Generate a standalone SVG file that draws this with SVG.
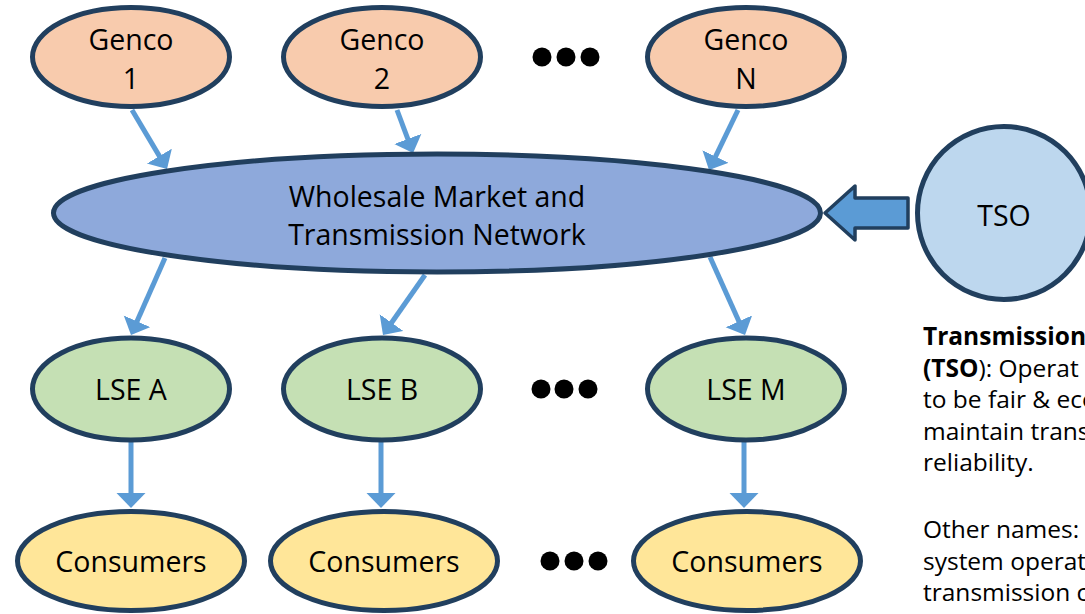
<svg xmlns="http://www.w3.org/2000/svg" width="1085" height="614" viewBox="0 0 1085 614">
<defs>
<style>
.node{stroke:#213F5E;stroke-width:5}
.genco{fill:#F8CBAD}
.market{fill:#8EA9DB}
.tso{fill:#BDD7EE}
.lse{fill:#C5E0B4}
.cons{fill:#FFE699}
.lbl{font-family:"Open Sans","Noto Sans",sans-serif;font-size:28.5px;fill:#000;text-anchor:middle}
.conn{stroke:#5B9BD5;stroke-width:5;fill:none;marker-end:url(#ah)}
.note{font-family:"Open Sans","Noto Sans",sans-serif;font-size:24.5px;fill:#000}
.dot{fill:#000}
</style>
<marker id="ah" markerUnits="userSpaceOnUse" markerWidth="16" markerHeight="30" refX="12" refY="14.5" orient="auto">
<path d="M0,0 L15,14.5 L0,29 Z" fill="#5B9BD5"/>
</marker>
</defs>
<rect width="1085" height="614" fill="#fff"/>
<g id="connectors">
<line class="conn" x1="132" y1="110" x2="165.5" y2="166.4"/>
<line class="conn" x1="397" y1="110" x2="412" y2="150.2"/>
<line class="conn" x1="738" y1="110" x2="710.3" y2="167.3"/>
<line class="conn" x1="165" y1="258" x2="132.2" y2="332.3"/>
<line class="conn" x1="425" y1="275" x2="384.7" y2="332.5"/>
<line class="conn" x1="710" y1="257" x2="743.8" y2="332.3"/>
<line class="conn" x1="131" y1="442" x2="131" y2="505"/>
<line class="conn" x1="381" y1="442" x2="381" y2="505"/>
<line class="conn" x1="744" y1="442" x2="744" y2="505"/>
<path id="tso-arrow" d="M825,213 L855,186 L855,198 L908,198 L908,228 L855,228 L855,240 Z" fill="#5B9BD5" stroke="#213F5E" stroke-width="3.5" stroke-linejoin="round"/>
</g>
<g id="genco1"><ellipse class="node genco" cx="131" cy="57" rx="98.5" ry="49.5"/><text class="lbl" x="131" y="50">Genco</text><text class="lbl" x="131" y="89">1</text></g>
<g id="genco2"><ellipse class="node genco" cx="382" cy="57" rx="98.5" ry="49.5"/><text class="lbl" x="382" y="50">Genco</text><text class="lbl" x="382" y="89">2</text></g>
<g id="gencoN"><ellipse class="node genco" cx="746" cy="57" rx="98.5" ry="49.5"/><text class="lbl" x="746" y="50">Genco</text><text class="lbl" x="746" y="89">N</text></g>
<g id="dots-top"><circle class="dot" cx="542" cy="57" r="9.5"/><circle class="dot" cx="566" cy="57" r="9.5"/><circle class="dot" cx="590" cy="57" r="9.5"/></g>
<g id="market"><ellipse class="node market" cx="437" cy="213" rx="383.5" ry="59"/><text class="lbl" x="437" y="207">Wholesale Market and</text><text class="lbl" x="437" y="245">Transmission Network</text></g>
<g id="tso"><circle class="node tso" cx="1004" cy="213" r="86.5"/><text class="lbl" x="1004" y="226">TSO</text></g>
<g id="lseA"><ellipse class="node lse" cx="131" cy="389" rx="98.5" ry="51"/><text class="lbl" x="131" y="400">LSE A</text></g>
<g id="lseB"><ellipse class="node lse" cx="382" cy="389" rx="98.5" ry="51"/><text class="lbl" x="382" y="400">LSE B</text></g>
<g id="lseM"><ellipse class="node lse" cx="746" cy="389" rx="98.5" ry="51"/><text class="lbl" x="746" y="400">LSE M</text></g>
<g id="dots-mid"><circle class="dot" cx="541" cy="389" r="9.5"/><circle class="dot" cx="564" cy="389" r="9.5"/><circle class="dot" cx="588" cy="389" r="9.5"/></g>
<g id="consA"><ellipse class="node cons" cx="131" cy="561" rx="113.5" ry="49.5"/><text class="lbl" x="131" y="572">Consumers</text></g>
<g id="consB"><ellipse class="node cons" cx="384" cy="561" rx="113.5" ry="49.5"/><text class="lbl" x="384" y="572">Consumers</text></g>
<g id="consM"><ellipse class="node cons" cx="747" cy="561" rx="113.5" ry="49.5"/><text class="lbl" x="747" y="572">Consumers</text></g>
<g id="dots-bot"><circle class="dot" cx="550" cy="561" r="9.5"/><circle class="dot" cx="574" cy="561" r="9.5"/><circle class="dot" cx="598" cy="561" r="9.5"/></g>
<g id="note">
<text class="note" x="923" y="345"><tspan font-weight="bold">Transmission</tspan></text>
<text class="note" x="923" y="377"><tspan font-weight="bold">(TSO</tspan>): Operat</text>
<text class="note" x="923" y="408">to be fair &amp; eco</text>
<text class="note" x="923" y="440">maintain trans</text>
<text class="note" x="923" y="471">reliability.</text>
<text class="note" x="923" y="538">Other names:</text>
<text class="note" x="923" y="570">system operat</text>
<text class="note" x="923" y="601">transmission c</text>
</g>
</svg>
